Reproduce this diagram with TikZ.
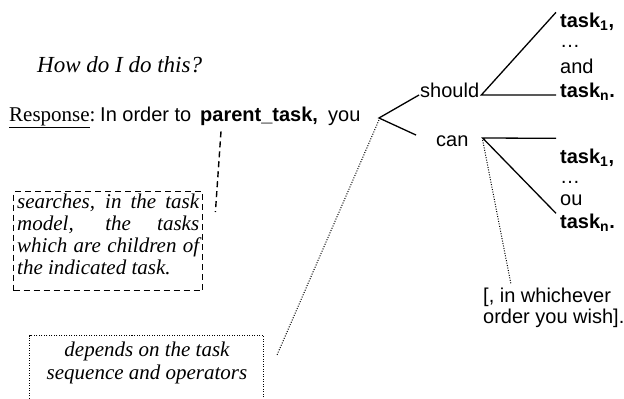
\documentclass[tikz,border=0pt]{standalone}
\usepackage{fontspec}
\setmainfont{Liberation Serif}
\newfontfamily\arialf{Liberation Sans}
\newcommand\fsz[2]{\fontsize{#1}{#2}\selectfont}
\begin{document}
\begin{tikzpicture}[x=1pt,y=-1pt,
  ln/.style={line width=1.3pt},
  dotln/.style={line width=1pt, dash pattern=on 1pt off 1.5pt},
  dashln/.style={line width=1.4pt, dash pattern=on 6pt off 4pt},
  sans/.style={font=\arialf\fsz{20}{22}, inner sep=0pt, anchor=base west},
  bsans/.style={font=\arialf\bfseries\fsz{20}{22}, inner sep=0pt, anchor=base west},
  ital/.style={font=\itshape\fsz{21}{22}, inner sep=0pt},
]
\useasboundingbox (0,0) rectangle (624,399);
\fill[white] (0,0) rectangle (624,399);
\clip (0,0) rectangle (624,399);

\node[inner sep=0pt, anchor=base west, font=\itshape\fsz{23}{26}] (title) at (37,72) {How do I do this?};

\node[inner sep=0pt, anchor=base west, font=\fsz{21}{22}] (resp) at (9,121) {\underline{Response}:};
\node[sans] (inorder) at (100,121) {In order to};
\node[bsans] (parent) at (200,121) {parent\_task,};
\node[sans] (you) at (328,121) {you};
\coordinate (fork) at (379,118);

\node[sans] (should) at (420,97) {should};
\node[sans] (can) at (436,146) {can};
\draw[ln] ([xshift=-1pt,yshift=2pt]should.base west) -- (fork) -- ([xshift=-20pt]can.north west);

\coordinate (sv) at ([xshift=2pt,yshift=2pt]should.base east);
\node[bsans] (st1) at (560,27) {task\textsubscript{1},};
\node[sans] (sdots) at (560,47) {…};
\node[sans] (sand) at (560,73) {and};
\node[bsans] (stn) at (560,97) {task\textsubscript{n}.};
\draw[ln] ([xshift=-4pt]st1.north west) -- (sv) -- ([xshift=-4pt,yshift=2pt]stn.base west);

\coordinate (cv) at ([xshift=14pt,yshift=8pt]can.base east);
\node[bsans] (ct1) at (560,163) {task\textsubscript{1},};
\node[sans] (cdots) at (560,183) {…};
\node[sans] (cou) at (560,205) {ou};
\node[bsans] (ctn) at (560,228) {task\textsubscript{n}.};
\draw[ln] ([xshift=-4pt,yshift=10pt]ct1.north west) -- (cv) -- ([xshift=-4pt]ctn.north west);

\node[sans] (ord1) at (483,302) {[, in whichever};
\node[sans] (ord2) at (483,323) {order you wish].};
\draw[dotln] ([yshift=-2pt]cv) -- ([xshift=28pt,yshift=3pt]ord1.north west);

\node[draw, dashln, minimum width=189pt, minimum height=99pt, inner sep=0pt, anchor=north west] (sbox) at (13,191) {};
\node[ital, anchor=base west] (s1) at (17,208) {\makebox[182pt][s]{searches, in the task}};
\node[ital, anchor=base west] (s2) at (17,230) {\makebox[182pt][s]{model, the tasks}};
\node[ital, anchor=base west] (s3) at (17,252) {\makebox[182pt][s]{which are children of}};
\node[ital, anchor=base west] (s4) at (17,274) {the indicated task.};
\draw[dashln] ([xshift=21pt,yshift=-6pt]parent.south west) -- ([xshift=12pt,yshift=-21pt]sbox.north east);

\node[draw, dotln, minimum width=234pt, minimum height=90pt, inner sep=0pt, anchor=north east] (obox) at (264,335) {};
\node[ital, anchor=base] (o1) at (147,356) {depends on the task};
\node[ital, anchor=base] (o2) at (147,379) {sequence and operators};
\draw[dotln] ([yshift=-2pt]fork) -- ([xshift=13pt,yshift=-20pt]obox.north east);
\end{tikzpicture}
\end{document}
